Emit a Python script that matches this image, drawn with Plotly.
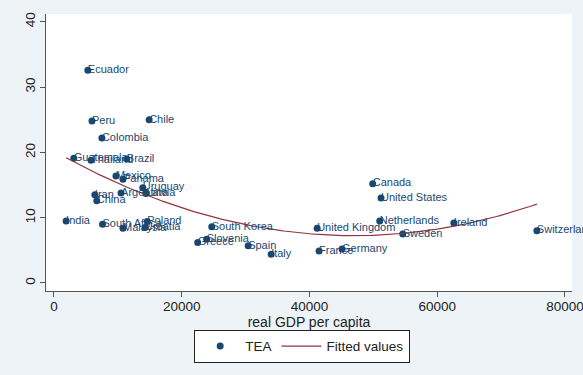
import numpy as np
import plotly.graph_objects as go

countries = ["Ecuador", "Peru", "Chile", "Colombia", "Guatemala", "Thailand", "Brazil",
             "Mexico", "Panama", "Uruguay", "Argentina", "Latvia", "Iran", "China",
             "India", "South Africa", "Malaysia", "Poland", "Croatia", "South Korea",
             "Slovenia", "Greece", "Spain", "Italy", "United Kingdom", "France", "Germany",
             "Canada", "United States", "Netherlands", "Sweden", "Ireland", "Switzerland"]
gdp = [5300, 5950, 14900, 7500, 3100, 5800, 11400,
       9700, 10800, 13900, 10500, 14400, 6400, 6700,
       1900, 7600, 10800, 14600, 14250, 24700,
       23900, 22500, 30400, 34000, 41200, 41500, 45100,
       49900, 51200, 51000, 54600, 62600, 75600]
tea = [32.6, 24.8, 25.0, 22.2, 19.1, 18.8, 19.0,
       16.4, 15.9, 14.6, 13.8, 13.7, 13.5, 12.6,
       9.5, 9.0, 8.4, 9.4, 8.5, 8.6,
       6.7, 6.2, 5.7, 4.4, 8.4, 4.9, 5.2,
       15.2, 13.0, 9.5, 7.5, 9.2, 8.0]

x_ticks = [0, 20000, 40000, 60000, 80000]
x_tick_labels = ["0", "20000", "40000", "60000", "80000"]
y_ticks = [0, 10, 20, 30, 40]
y_tick_labels = ["0", "10", "20", "30", "40"]

# quadratic fit (Stata qfit)
coef = np.polyfit(gdp, tea, 2)
xs = np.linspace(min(gdp), max(gdp), 200)
fit = np.polyval(coef, xs)

navy = "#1a476f"
maroon = "#90353b"
font_family = "Liberation Sans, Arial, sans-serif"

fig = go.Figure()
fig.add_trace(go.Scatter(
    x=gdp, y=tea, mode="markers", name="TEA",
    marker=dict(color=navy, size=7, line=dict(width=0)),
))
fig.add_trace(go.Scatter(
    x=xs, y=fit, mode="lines", name="Fitted values",
    line=dict(color=maroon, width=1.2),
))
fig.add_trace(go.Scatter(
    x=gdp, y=tea, mode="text", text=countries, textposition="middle right",
    textfont=dict(color=navy, size=11, family=font_family),
    showlegend=False, cliponaxis=False, hoverinfo="skip",
))

fig.update_layout(
    width=583, height=375,
    margin=dict(l=46, r=11, t=14, b=84),
    paper_bgcolor="#edf3f6",
    plot_bgcolor="white",
    font=dict(family=font_family, size=13.5, color="#222"),
    showlegend=True,
    legend=dict(
        orientation="h", x=0.487, xanchor="center", y=-0.14, yanchor="top",
        bgcolor="white", bordercolor="#222", borderwidth=1,
        font=dict(size=13.5, color="#222"), itemwidth=40,
    ),
    xaxis=dict(
        range=[-1250, 81100], tickvals=x_ticks, ticktext=x_tick_labels,
        showgrid=False, zeroline=False, automargin=False,
        showline=True, linecolor="#555", linewidth=1,
        ticks="outside", ticklen=5, tickcolor="#555",
        tickfont=dict(size=13.5), ticklabeloverflow="allow", ticklabelstandoff=-2,
        title=dict(text="real GDP per capita", standoff=0, font=dict(size=14)),
    ),
    yaxis=dict(
        range=[-1.23, 41.2], tickvals=y_ticks, ticktext=y_tick_labels,
        showgrid=False, zeroline=False, automargin=False,
        showline=True, linecolor="#555", linewidth=1,
        ticks="outside", ticklen=5, tickcolor="#555", tickangle=-90,
        tickfont=dict(size=13.5),
    ),
)

fig.write_html("out.html")
